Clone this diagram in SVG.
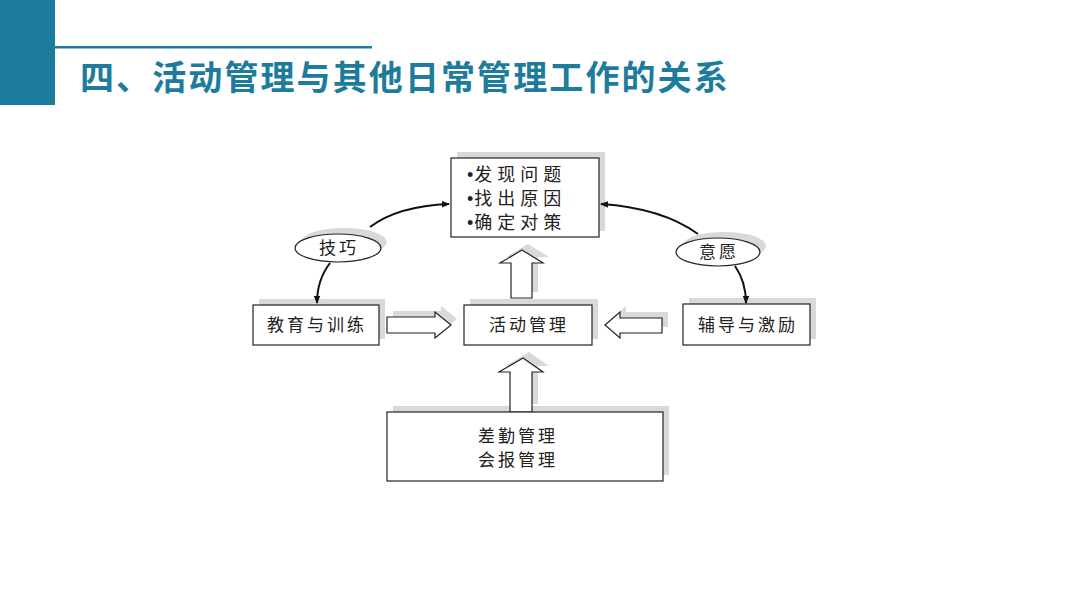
<svg xmlns="http://www.w3.org/2000/svg" width="1080" height="608" viewBox="0 0 1080 608">
<style>
.box{fill:#fff;stroke:#222;stroke-width:1.2}
.sh{fill:#d9d9d9}
.t{font-family:"Noto Sans CJK SC","Noto Sans CJK JP",sans-serif;font-size:17px;fill:#222;letter-spacing:3px}
.tb{font-size:18px;letter-spacing:5px}
.b{font-family:"Liberation Sans",sans-serif;letter-spacing:0}
.c{fill:none;stroke:#111;stroke-width:2}
.title{font-family:"Noto Sans CJK SC",sans-serif;font-weight:bold;font-size:34px;fill:#1d7c9c;letter-spacing:2.1px}
</style>
<defs>
<marker id="ah" markerWidth="8" markerHeight="8" refX="7" refY="4" orient="auto" markerUnits="userSpaceOnUse">
<path d="M0,0.8 L8,4 L0,7.2 Z" fill="#111"/>
</marker>
</defs>
<rect width="1080" height="608" fill="#fff"/>
<g id="header">
<rect x="0" y="0" width="55" height="105" fill="#1d7c9c"/>
<rect x="55" y="46" width="317" height="2.5" fill="#1d7c9c"/>
<text class="title" x="80" y="90">四、活动管理与其他日常管理工作的关系</text>
</g>
<g id="shadows">
<rect class="sh" x="457" y="152" width="148" height="79"/>
<rect class="sh" x="259" y="299" width="126" height="40"/>
<rect class="sh" x="470" y="299" width="128" height="40"/>
<rect class="sh" x="689" y="298" width="127" height="41"/>
<rect class="sh" x="393" y="406" width="276" height="69"/>
<ellipse class="sh" cx="344" cy="242" rx="43" ry="14"/>
<ellipse class="sh" cx="724" cy="246" rx="42" ry="14"/>
<path class="sh" d="M393,311 L441,311 L441,306 L457,319 L441,332 L441,327 L393,327 Z"/>
<path class="sh" d="M611,319 L626,306 L626,312 L668,312 L668,327 L626,327 L626,332 Z"/>
<path class="sh" d="M528,244 L549,257 L538,257 L538,292 L517,292 L517,257 L506,257 Z"/>
<path class="sh" d="M529,352 L549,366 L538,366 L538,404 L516,404 L516,366 L505,366 Z"/>
</g>
<g id="connectors">
<path class="c" d="M370,227 Q398,206 449,204" marker-end="url(#ah)"/>
<path class="c" d="M330,263 Q317,280 317,303" marker-end="url(#ah)"/>
<path class="c" d="M698,234 Q662,208 601,204" marker-end="url(#ah)"/>
<path class="c" d="M735,266 Q746,282 746,303" marker-end="url(#ah)"/>
<path class="box" d="M387,317 L435,317 L435,312 L451,325 L435,338 L435,333 L387,333 Z"/>
<path class="box" d="M605,325 L620,312 L620,318 L662,318 L662,333 L620,333 L620,338 Z"/>
<path class="box" d="M522,250 L543,263 L532,263 L532,298 L511,298 L511,263 L500,263 Z"/>
<path class="box" d="M523,358 L543,372 L532,372 L532,412 L510,412 L510,372 L499,372 Z"/>
</g>
<g id="n-top">
<rect class="box" x="451" y="158" width="148" height="79"/>
<text class="t tb" x="467" y="181"><tspan class="b">•</tspan><tspan dx="1">发现问题</tspan></text>
<text class="t tb" x="467" y="205"><tspan class="b">•</tspan><tspan dx="1">找出原因</tspan></text>
<text class="t tb" x="467" y="229"><tspan class="b">•</tspan><tspan dx="1">确定对策</tspan></text>
</g>
<g id="n-jiqiao">
<ellipse class="box" cx="338" cy="248" rx="43" ry="14"/>
<text class="t" x="339" y="254" text-anchor="middle">技巧</text>
</g>
<g id="n-yiyuan">
<ellipse class="box" cx="718" cy="252" rx="42" ry="14"/>
<text class="t" x="719" y="258" text-anchor="middle">意愿</text>
</g>
<g id="n-jiaoyu">
<rect class="box" x="253" y="305" width="126" height="40"/>
<text class="t" x="317" y="331" text-anchor="middle">教育与训练</text>
</g>
<g id="n-huodong">
<rect class="box" x="464" y="305" width="128" height="40"/>
<text class="t" x="529" y="331" text-anchor="middle">活动管理</text>
</g>
<g id="n-fudao">
<rect class="box" x="683" y="304" width="127" height="41"/>
<text class="t" x="748" y="331" text-anchor="middle">辅导与激励</text>
</g>
<g id="n-bottom">
<rect class="box" x="387" y="412" width="276" height="69"/>
<text class="t" x="478" y="442">差勤管理</text>
<text class="t" x="478" y="466">会报管理</text>
</g>
</svg>
